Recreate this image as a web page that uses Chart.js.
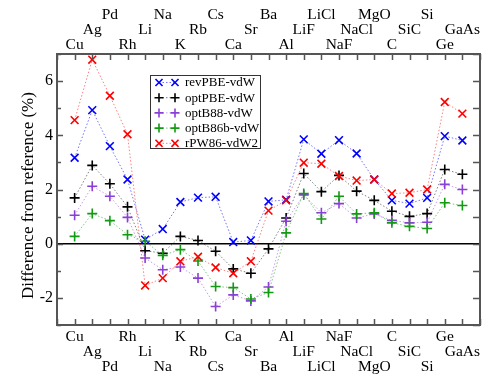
<!DOCTYPE html>
<html><head><meta charset="utf-8">
<script src="https://cdn.jsdelivr.net/npm/chart.js@4/dist/chart.umd.min.js"></script>
<style>html,body{margin:0;padding:0;background:#fff}canvas{display:block}</style>
</head><body>
<canvas id="c" width="491" height="379"></canvas>
<script>
const categories = ['Cu','Ag','Pd','Rh','Li','Na','K','Rb','Cs','Ca','Sr','Ba','Al','LiF','LiCl','NaF','NaCl','MgO','C','SiC','Si','Ge','GaAs'];
const revPBE  = [3.17, 4.93, 3.60, 2.37, 0.15, 0.54, 1.54, 1.70, 1.73, 0.06, 0.12, 1.56, 1.62, 3.85, 3.32, 3.82, 3.33, 2.37, 1.60, 1.48, 1.69, 3.97, 3.81];
const optPBE  = [1.69, 2.89, 2.21, 1.36, -0.26, -0.35, 0.27, 0.12, -0.28, -0.93, -1.09, -0.19, 0.95, 2.59, 1.92, 2.52, 1.94, 1.60, 1.20, 1.01, 1.11, 2.74, 2.56];
const optB88  = [1.05, 2.12, 1.75, 0.97, -0.53, -0.96, -0.86, -1.27, -2.32, -1.89, -2.11, -1.60, 0.83, 1.80, 1.14, 1.48, 0.95, 1.10, 0.86, 0.77, 0.79, 2.19, 2.00];
const optB86b = [0.27, 1.11, 0.85, 0.33, 0.09, -0.43, -0.22, -0.64, -1.58, -1.62, -2.04, -1.80, 0.40, 1.85, 0.91, 1.75, 1.10, 1.14, 0.77, 0.64, 0.56, 1.51, 1.41];
const rPW86   = [4.56, 6.79, 5.46, 4.04, -1.54, -1.27, -0.65, -0.48, -0.88, -1.09, -0.65, 1.22, 1.60, 2.99, 2.95, 2.50, 2.33, 2.37, 1.85, 1.88, 2.00, 5.23, 4.80];
const yTickLabels = [-2, 0, 2, 4, 6];
const seriesNames = ['revPBE-vdW','optPBE-vdW','optB88-vdW','optB86b-vdW','rPW86-vdW2'];
const seriesValues = [revPBE, optPBE, optB88, optB86b, rPW86];
const yTitle = 'Difference from reference (%)';

const colors = ['#0000ff','#000000','#8a3fd6','#139a13','#ff0000'];
const lineColors = ['rgba(0,0,255,0.55)','rgba(0,0,0,0.5)','rgba(138,63,214,0.5)','rgba(19,154,19,0.55)','rgba(255,0,0,0.5)'];
const styles = ['crossRot','cross','cross','cross','crossRot'];
const radii = [5.5, 5, 5, 5, 5.5];
const FONT = "'Liberation Serif', 'DejaVu Serif', serif";
const frameColor = '#555';

Chart.defaults.font.family = FONT;
Chart.defaults.color = '#000';

const datasets = seriesValues.map((vals, k) => ({
  label: seriesNames[k],
  data: vals.map((v, i) => ({x: i, y: v})),
  borderColor: lineColors[k],
  borderWidth: 1,
  borderDash: [1.5, 2],
  pointStyle: styles[k],
  pointRadius: radii[k],
  pointBorderColor: colors[k],
  pointBorderWidth: 1.6,
  pointBackgroundColor: colors[k],
  pointHoverRadius: radii[k],
  tension: 0,
  fill: false,
  order: 4 - k
}));

function drawMarker(ctx, style, x, y, r, color) {
  ctx.save();
  ctx.strokeStyle = color; ctx.lineWidth = 1.6; ctx.setLineDash([]);
  ctx.beginPath();
  if (style === 'cross') {
    ctx.moveTo(x - r, y); ctx.lineTo(x + r, y);
    ctx.moveTo(x, y - r); ctx.lineTo(x, y + r);
  } else {
    const d = r * Math.SQRT1_2;
    ctx.moveTo(x - d, y - d); ctx.lineTo(x + d, y + d);
    ctx.moveTo(x - d, y + d); ctx.lineTo(x + d, y - d);
  }
  ctx.stroke();
  ctx.restore();
}

const framePlugin = {
  id: 'frame',
  beforeDatasetsDraw(chart) {
    const {ctx, chartArea: a, scales: {y}} = chart;
    const y0 = y.getPixelForValue(0);
    ctx.save();
    ctx.strokeStyle = '#000'; ctx.lineWidth = 1.5;
    ctx.beginPath(); ctx.moveTo(a.left, y0); ctx.lineTo(a.right, y0); ctx.stroke();
    ctx.restore();
  },
  afterDraw(chart) {
    const {ctx, chartArea: a, scales: {x, y}} = chart;
    ctx.save();
    ctx.strokeStyle = frameColor; ctx.lineWidth = 1.5; ctx.setLineDash([]);
    // x ticks (inward), top and bottom
    ctx.beginPath();
    for (let i = -1; i <= categories.length; i++) {
      const px = Math.round(x.getPixelForValue(i)) + 0.5;
      ctx.moveTo(px, a.bottom); ctx.lineTo(px, a.bottom - 6);
      ctx.moveTo(px, a.top); ctx.lineTo(px, a.top + 6);
    }
    // y ticks
    for (let v = -3; v <= 7; v++) {
      const py = Math.round(y.getPixelForValue(v)) + 0.5;
      const L = (v % 2 === 0) ? 6 : 4;
      ctx.moveTo(a.left, py); ctx.lineTo(a.left + L, py);
      ctx.moveTo(a.right, py); ctx.lineTo(a.right - 7, py);
    }
    ctx.stroke();
    ctx.lineWidth = 2;
    ctx.strokeRect(a.left, a.top, a.right - a.left, a.bottom - a.top);
    ctx.restore();

    // y title
    ctx.save();
    ctx.font = '17px ' + FONT;
    ctx.fillStyle = '#000';
    ctx.textAlign = 'center';
    ctx.textBaseline = 'alphabetic';
    ctx.translate(33, (a.top + a.bottom) / 2 + 6);
    ctx.rotate(-Math.PI / 2);
    ctx.fillText(yTitle, 0, 0);
    ctx.restore();

    // legend
    ctx.save();
    const bx = 150.5, by = 75.5, bw = 110, bh = 73;
    ctx.fillStyle = '#fff';
    ctx.fillRect(bx, by, bw, bh);
    ctx.strokeStyle = '#333'; ctx.lineWidth = 1;
    ctx.strokeRect(bx, by, bw, bh);
    ctx.font = '13px ' + FONT;
    ctx.textAlign = 'left';
    ctx.textBaseline = 'middle';
    seriesNames.forEach((name, k) => {
      const ly = 82.5 + k * 15.2;
      ctx.save();
      ctx.strokeStyle = lineColors[k]; ctx.lineWidth = 1; ctx.setLineDash([1.5, 2]);
      ctx.beginPath(); ctx.moveTo(159, ly); ctx.lineTo(175, ly); ctx.stroke();
      ctx.restore();
      drawMarker(ctx, styles[k], 159, ly, radii[k] - 0.5, colors[k]);
      drawMarker(ctx, styles[k], 175, ly, radii[k] - 0.5, colors[k]);
      ctx.fillStyle = '#000';
      ctx.fillText(name, 185, ly + 0.5);
    });
    ctx.restore();
  }
};

function bottomLabel(v) {
  const i = Math.round(v);
  if (i < 0 || i >= categories.length) return '';
  const r = i % 3, out = [];
  for (let k = 0; k < r; k++) out.push('');
  out.push(categories[i]);
  return out;
}
function topLabel(v) {
  const i = Math.round(v);
  if (i < 0 || i >= categories.length) return '';
  const r = i % 3, out = [categories[i]];
  for (let k = 0; k < r; k++) out.push('');
  return out;
}

const xCommon = {
  type: 'linear', min: -1, max: categories.length, offset: false,
  grid: {display: false, drawTicks: false},
  border: {display: false}
};

new Chart(document.getElementById('c'), {
  type: 'line',
  data: {datasets},
  options: {
    responsive: false,
    animation: false,
    devicePixelRatio: 1,
    layout: {padding: {left: 0, right: 11, top: 0, bottom: 0}},
    plugins: {legend: {display: false}, tooltip: {enabled: false}},
    scales: {
      x: Object.assign({}, xCommon, {
        position: 'bottom',
        ticks: {stepSize: 1, autoSkip: false, maxRotation: 0, minRotation: 0, maxTicksLimit: 100,
                padding: 4.5, font: {size: 15.5, lineHeight: '15px'}, color: '#000', callback: bottomLabel},
        afterFit(s) { s.height = 54; }
      }),
      x2: Object.assign({}, xCommon, {
        position: 'top',
        ticks: {stepSize: 1, autoSkip: false, maxRotation: 0, minRotation: 0, maxTicksLimit: 100,
                padding: 1.5, font: {size: 15.5, lineHeight: '15px'}, color: '#000', callback: topLabel},
        afterFit(s) { s.height = 54; }
      }),
      y: {
        type: 'linear', position: 'left', min: -3, max: 7,
        grid: {display: false, drawTicks: false},
        border: {display: false},
        ticks: {stepSize: 1, autoSkip: false, maxTicksLimit: 100, padding: 4, font: {size: 16}, color: '#000',
                callback: v => yTickLabels.includes(v) ? String(v) : ''},
        afterFit(s) { s.width = 57; }
      }
    }
  },
  plugins: [framePlugin]
});
</script>
</body></html>
